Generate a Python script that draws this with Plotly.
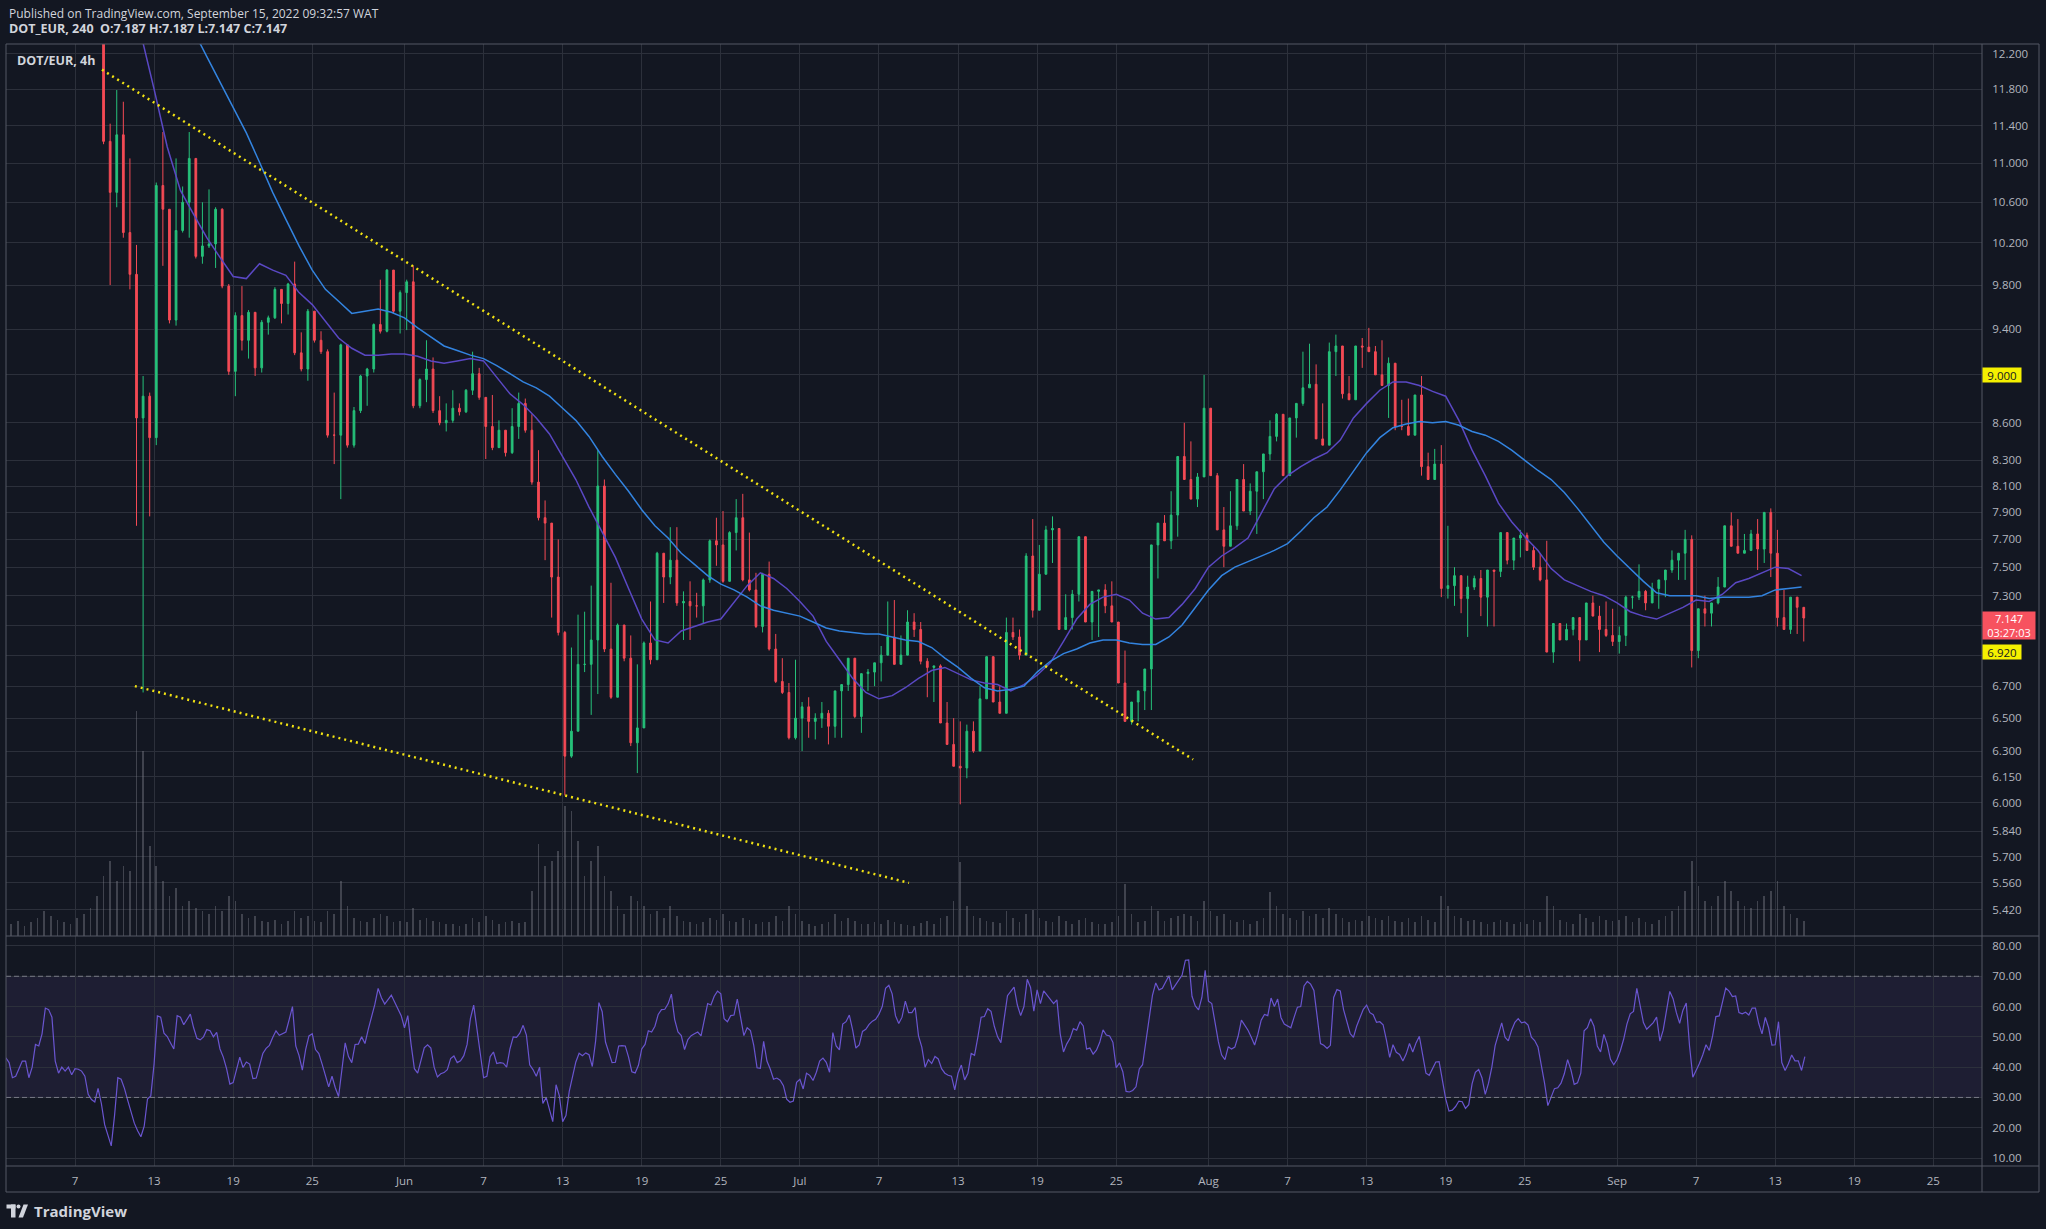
import numpy as np
import pandas as pd
import plotly.graph_objects as go

# ---------------- data ----------------
candle_start = "2022-05-02 00:00"      # open time of the first 12h candle
candle_hours = 12
first_open = 14.75

close = [
    14.6, 14.9, 14.5, 14.2, 14.4, 15.5, 15.7, 14.6, 14.4, 14.2, 14.1, 13.9, 13.4, 12.7,
    11.23, 10.7, 11.3, 10.3, 9.9, 8.64, 8.82, 8.48, 10.77, 10.53,
    9.48, 10.32, 10.6, 11.05, 10.07, 10.17, 10.19, 10.53, 9.79, 9.03,
    9.52, 9.3, 9.55, 9.06, 9.46, 9.5, 9.76, 9.63, 9.81, 9.19,
    9.05, 9.56, 9.3, 9.2, 8.5, 8.5, 9.26, 8.42, 8.7, 8.99,
    9.05, 9.44, 9.38, 9.94, 9.56, 9.73, 9.83, 8.74, 8.96, 9.05,
    8.7, 8.6, 8.62, 8.72, 8.69, 8.87, 9.01, 8.81, 8.57, 8.4,
    8.54, 8.36, 8.57, 8.76, 8.54, 8.13, 7.86, 7.82, 7.43, 7.05,
    6.27, 6.42, 6.84, 6.84, 7.0, 8.1, 6.94, 6.63, 7.1, 6.88,
    6.35, 6.44, 6.98, 6.87, 7.6, 7.43, 7.55, 7.25, 7.26, 7.23,
    7.23, 7.41, 7.69, 7.66, 7.4, 7.75, 7.86, 7.41, 7.34, 7.09,
    7.45, 6.94, 6.73, 6.66, 6.38, 6.5, 6.57, 6.48, 6.5, 6.53,
    6.45, 6.67, 6.71, 6.88, 6.51, 6.78, 6.79, 6.85, 6.9, 7.02,
    6.84, 6.9, 7.12, 7.07, 6.86, 6.82, 6.83, 6.47, 6.34, 6.21,
    6.2, 6.42, 6.3, 6.62, 6.89, 6.6, 6.53, 7.05, 7.02, 6.9,
    7.58, 7.2, 7.45, 7.77, 7.78, 7.07, 7.15, 7.31, 7.72, 7.12,
    7.33, 7.34, 7.23, 7.12, 6.72, 6.48, 6.6, 6.67, 6.81, 7.66,
    7.82, 7.69, 7.88, 8.33, 8.15, 8.0, 8.17, 8.72, 8.18, 7.77,
    7.65, 7.8, 8.15, 7.91, 8.06, 8.21, 8.35, 8.49, 8.67, 8.18,
    8.64, 8.76, 8.89, 8.92, 8.47, 8.42, 9.2, 9.25, 8.84, 8.79,
    9.25, 9.24, 9.2, 9.0, 8.91, 9.1, 8.57, 8.57, 8.5, 8.83,
    8.25, 8.15, 8.27, 7.35, 7.37, 7.44, 7.28, 7.36, 7.42, 7.29,
    7.48, 7.47, 7.75, 7.55, 7.71, 7.73, 7.62, 7.5, 7.41, 6.92,
    7.11, 7.0, 7.07, 7.15, 7.0, 7.25, 7.16, 7.07, 7.03, 6.99,
    7.03, 7.29, 7.29, 7.33, 7.25, 7.35, 7.41, 7.48, 7.55, 7.6,
    7.7, 6.93, 7.21, 7.18, 7.25, 7.36, 7.8, 7.65, 7.6, 7.62,
    7.74, 7.63, 7.9, 7.6, 7.15, 7.07, 7.29, 7.22, 7.147,
]

high = [
    14.9, 15.1, 15.0, 14.6, 14.6, 15.7, 16.0, 15.8, 14.8, 14.6, 14.4, 14.2, 13.9, 13.5,
    12.7, 11.42, 11.79, 11.66, 11.05, 10.18, 8.99, 8.85, 10.8, 11.33,
    10.53, 11.05, 10.76, 11.33, 11.05, 10.6, 10.73, 10.55, 10.54, 9.81,
    9.55, 9.79, 9.57, 9.52, 9.48, 9.52, 9.78, 9.67, 9.82, 10.02,
    9.37, 9.58, 9.56, 9.38, 9.22, 8.85, 9.27, 9.25, 8.73, 9.0,
    9.06, 9.45, 9.85, 9.95, 9.93, 9.75, 9.85, 9.98, 8.97, 9.3,
    9.15, 8.82, 8.76, 8.87, 8.76, 8.88, 9.2, 9.06, 8.8, 8.83,
    8.62, 8.54, 8.72, 8.85, 8.8, 8.67, 8.38, 7.99, 7.7, 7.7,
    7.06, 6.95, 7.17, 7.19, 7.37, 8.38, 8.15, 7.39, 7.11, 7.05,
    7.03, 6.84, 6.99, 7.26, 7.61, 7.56, 7.79, 7.79, 7.33, 7.4,
    7.32, 7.42, 7.7, 7.86, 7.91, 7.76, 8.0, 8.04, 7.75, 7.46,
    7.46, 7.54, 7.04, 6.88, 6.72, 6.87, 6.6, 6.63, 6.53, 6.6,
    6.55, 6.67, 6.71, 6.88, 6.81, 6.78, 6.81, 6.85, 6.96, 7.26,
    7.27, 7.03, 7.2, 7.18, 7.12, 6.88, 6.83, 6.84, 6.6, 6.5,
    6.48, 6.46, 6.48, 6.7, 6.89, 6.82, 6.7, 7.15, 7.15, 7.07,
    7.6, 7.85, 7.66, 7.8, 7.87, 7.78, 7.31, 7.34, 7.72, 7.72,
    7.33, 7.34, 7.38, 7.4, 7.12, 6.93, 6.6, 6.67, 6.81, 7.66,
    7.82, 7.88, 8.06, 8.33, 8.6, 8.45, 8.2, 9.0, 8.72, 8.2,
    7.94, 8.06, 8.15, 8.27, 8.12, 8.21, 8.35, 8.62, 8.68, 8.67,
    8.64, 8.76, 9.2, 9.27, 9.09, 8.76, 9.28, 9.35, 9.25, 8.99,
    9.25, 9.32, 9.41, 9.25, 9.3, 9.15, 9.1, 8.79, 8.8, 8.83,
    8.99, 8.36, 8.39, 8.42, 7.8, 7.5, 7.44, 7.44, 7.44, 7.48,
    7.48, 7.47, 7.75, 7.75, 7.71, 7.77, 7.75, 7.65, 7.6, 7.69,
    7.11, 7.11, 7.11, 7.15, 7.15, 7.25, 7.3, 7.23, 7.26, 7.21,
    7.09, 7.3, 7.3, 7.52, 7.34, 7.39, 7.41, 7.48, 7.62, 7.6,
    7.77, 7.73, 7.21, 7.3, 7.25, 7.43, 7.8, 7.9, 7.85, 7.74,
    7.77, 7.85, 7.9, 7.93, 7.77, 7.34, 7.29, 7.27, 7.22,
]

low = [
    14.4, 14.5, 14.3, 14.0, 14.0, 14.3, 15.3, 14.4, 14.1, 13.9, 13.8, 13.6, 13.1, 12.4,
    11.2, 9.8, 10.55, 10.25, 9.76, 7.8, 6.66, 7.87, 8.42, 9.98,
    9.45, 9.43, 10.3, 10.25, 10.05, 10.0, 10.15, 9.96, 9.77, 9.0,
    8.82, 9.21, 9.14, 8.99, 9.02, 9.35, 9.49, 9.45, 9.53, 9.17,
    9.03, 8.95, 9.28, 9.18, 8.48, 8.27, 8.0, 8.4, 8.4, 8.68,
    8.74, 9.02, 9.36, 9.37, 9.54, 9.36, 9.39, 8.72, 8.72, 8.77,
    8.68, 8.58, 8.53, 8.6, 8.66, 8.68, 8.83, 8.79, 8.31, 8.38,
    8.4, 8.33, 8.35, 8.47, 8.52, 8.11, 7.84, 7.55, 7.15, 7.03,
    6.04, 6.26, 6.74, 6.79, 6.52, 6.65, 6.92, 6.62, 6.71, 6.86,
    6.33, 6.17, 6.5, 6.84, 6.88, 7.25, 7.38, 7.23, 7.0, 7.0,
    7.15, 7.11, 7.39, 7.51, 7.39, 7.4, 7.62, 7.4, 7.33, 7.08,
    7.05, 6.93, 6.72, 6.65, 6.37, 6.37, 6.3, 6.38, 6.37, 6.44,
    6.34, 6.38, 6.38, 6.67, 6.5, 6.41, 6.67, 6.7, 6.73, 6.9,
    6.84, 6.84, 6.9, 7.02, 6.84, 6.63, 6.6, 6.47, 6.34, 6.21,
    5.99, 6.14, 6.29, 6.3, 6.62, 6.6, 6.53, 6.53, 7.0, 6.87,
    6.9, 7.15, 7.2, 7.45, 7.53, 7.07, 7.07, 7.07, 7.26, 7.12,
    7.0, 7.02, 7.18, 7.12, 6.72, 6.48, 6.46, 6.48, 6.55, 6.55,
    7.42, 7.69, 7.63, 7.72, 8.15, 8.0, 7.94, 8.17, 8.18, 7.77,
    7.5, 7.65, 7.77, 7.91, 7.88, 7.74, 8.0, 8.3, 8.45, 8.18,
    8.18, 8.48, 8.74, 8.89, 8.47, 8.42, 8.42, 8.99, 8.8, 8.79,
    8.79, 9.06, 9.2, 9.0, 8.91, 8.64, 8.54, 8.54, 8.5, 8.5,
    8.18, 8.15, 8.15, 7.29, 7.28, 7.23, 7.18, 7.02, 7.34, 7.16,
    7.09, 7.09, 7.43, 7.52, 7.48, 7.57, 7.62, 7.48, 7.4, 6.92,
    6.85, 7.0, 7.0, 7.03, 6.86, 7.0, 7.16, 6.92, 7.02, 6.96,
    6.91, 6.96, 7.21, 7.27, 7.2, 7.25, 7.21, 7.29, 7.46, 7.41,
    7.41, 6.82, 6.88, 7.09, 7.09, 7.24, 7.36, 7.65, 7.6, 7.6,
    7.62, 7.48, 7.53, 7.43, 7.09, 7.07, 7.04, 7.04, 6.99,
]

volume = [  # thousand DOT per 12h
    12, 15, 10, 14, 18, 25, 20, 16, 14, 12, 18, 22, 28, 40,
    60, 75, 55, 70, 65, 225, 185, 90, 70, 55,
    40, 48, 30, 35, 28, 25, 22, 30, 25, 40,
    35, 22, 18, 20, 15, 14, 16, 12, 15, 25,
    18, 20, 15, 14, 25, 22, 55, 30, 18, 15,
    14, 18, 22, 20, 14, 15, 14, 28, 16, 18,
    15, 14, 12, 12, 10, 12, 18, 14, 20, 16,
    12, 14, 15, 13, 14, 45, 92, 70, 75, 85,
    130, 125, 95, 60, 75, 90, 60, 45, 30, 22,
    40, 35, 30, 22, 25, 18, 30, 20, 15, 14,
    12, 14, 18, 16, 22, 15, 14, 18, 16, 12,
    14, 14, 20, 15, 30, 22, 15, 12, 10, 12,
    14, 22, 15, 18, 15, 12, 12, 14, 12, 16,
    14, 12, 11, 10, 13, 15, 12, 18, 20, 35,
    74, 30, 20, 18, 15, 14, 13, 25, 18, 14,
    22, 26, 18, 15, 14, 20, 15, 12, 16, 18,
    14, 12, 12, 14, 20, 52, 22, 14, 15, 30,
    25, 15, 18, 20, 22, 20, 15, 35, 25, 20,
    22, 16, 14, 16, 12, 15, 18, 44, 30, 22,
    18, 16, 25, 20, 22, 18, 28, 22, 18, 14,
    16, 15, 20, 18, 16, 20, 15, 14, 18, 14,
    20, 16, 14, 40, 30, 20, 18, 15, 16, 14,
    12, 14, 16, 14, 12, 14, 12, 16, 14, 40,
    30, 16, 14, 12, 22, 18, 14, 20, 16, 15,
    16, 20, 14, 18, 14, 12, 16, 20, 25, 30,
    45, 75, 50, 35, 30, 40, 55, 45, 35, 30,
    28, 35, 40, 45, 55, 30, 22, 18, 15,
]

rsi_start = "2022-05-01 18:00"
rsi_hours = 6
rsi = [
    43.1, 41.5, 36.5, 37, 39.5, 42, 42, 36.5, 40, 47.5,
    47, 51, 59.5, 59, 56.5, 42, 38, 40, 38.7, 40,
    37.5, 39.5, 39.3, 38.7, 37, 31, 29.3, 28.5, 33, 28,
    21, 17.5, 14, 24, 36.5, 36, 33, 29, 25, 21.5,
    19, 17, 20.5, 29.5, 30.5, 41, 56.9, 56.5, 51.2, 50.1,
    48, 46, 57, 56.5, 54, 56, 57.5, 53, 49.5, 49,
    50, 52.4, 52, 50, 51.5, 46, 43.3, 39.5, 34.4, 34.9,
    39, 43.3, 39.9, 41.7, 41, 36.2, 36.4, 40.5, 44.5, 46.2,
    47.2, 49.8, 52, 50.5, 51, 51.6, 55.7, 60, 47, 43.8,
    39, 45.8, 50.3, 51, 45.8, 44.5, 41, 37.5, 33.5, 37,
    33.2, 30.3, 40, 48, 43.5, 41.5, 47.5, 47.6, 50, 47.8,
    52.5, 56.5, 60.7, 66, 62.9, 60.8, 62.5, 63.8, 61.5, 59.5,
    57, 53, 57, 47.5, 39.5, 38, 42, 46.4, 47.4, 46.3,
    40, 36.8, 37.8, 38.2, 39.2, 42.8, 43.7, 41.5, 42.1, 43.8,
    47.5, 56, 60.5, 53, 44.5, 36.5, 37, 43.5, 45, 41.2,
    41.5, 41.3, 40, 46, 50, 49.8, 51.2, 53.8, 50.6, 40.8,
    39.2, 37, 40, 28, 30, 26.4, 22, 34.2, 30.5, 22,
    24, 32, 36.7, 41.7, 44.6, 43.8, 44.7, 44.1, 40.2, 48.6,
    61.3, 58.3, 48.3, 45.2, 41.5, 41.6, 47, 47.1, 47, 43.3,
    38.5, 38.1, 40.6, 46, 47.5, 52, 51.6, 53.5, 57.4, 59,
    59.1, 60.9, 64.1, 55.7, 51.6, 50.4, 45.8, 49.1, 50.4, 51,
    51.6, 50.3, 55.9, 61, 60.5, 63.4, 65.1, 64.2, 56, 55,
    57, 57.2, 62.5, 56.7, 50.4, 53, 52.1, 47.2, 39.8, 39.6,
    48.5, 42, 39.4, 36, 36.4, 35.7, 33.9, 29.4, 28.4, 28.8,
    35, 36, 32.8, 38, 37.3, 35.6, 38.3, 42, 43, 41.6,
    38.3, 51.4, 47, 45.7, 54.2, 55, 57.2, 52.3, 46.3, 47.3,
    51.8, 52.5, 54.1, 55.2, 55.8, 57.5, 60, 66, 67, 64.2,
    57, 54.4, 56.5, 61.8, 58, 58, 59.7, 50.3, 46.6, 40,
    42.5, 41.2, 43.5, 42.7, 39.5, 38, 37.3, 37, 32.5, 38,
    40.7, 35.8, 38, 44.5, 43.9, 49.8, 56.5, 56.7, 59.3, 58.4,
    53.5, 50, 48.1, 56, 63.6, 65, 66.4, 60.5, 57, 60,
    69, 66.3, 58.5, 65.5, 61, 65.2, 63.8, 62.2, 61, 62.2,
    51, 45, 47.7, 49.5, 52.7, 52.2, 55, 53.6, 46, 46.3,
    44.3, 45.6, 48.2, 52.3, 50.6, 50.3, 48.2, 39.8, 41.4, 38.5,
    32, 31.8, 32.3, 33.5, 39.4, 40.8, 48, 56.5, 63.7, 67.8,
    65.5, 66, 68, 70.2, 65.5, 67, 68.8, 70.4, 75.3, 75.4,
    63.4, 60.2, 58.9, 63, 72, 61.8, 61, 54, 48.4, 44,
    42.5, 46.7, 46, 46.6, 50.2, 55.5, 53.8, 52.2, 49.9, 47.3,
    50.9, 55.5, 57.4, 57, 62.8, 60, 62.5, 56.4, 54.2, 53.7,
    53, 56.5, 59.8, 60, 66.8, 68.3, 67.4, 65.3, 55.5, 47.8,
    47.2, 46.2, 47.2, 63, 65.6, 65.2, 59, 55, 51.1, 49.8,
    53.6, 56.4, 59.1, 60.5, 58, 57.3, 54.8, 55, 54, 49,
    43.2, 47.4, 44.9, 44.2, 42, 44.3, 47.8, 45, 48, 50.2,
    44.4, 38, 37.3, 39.7, 41.7, 41.8, 35.5, 29.5, 25.5, 25.8,
    27, 28.8, 28.6, 26.4, 27.6, 34.5, 38.3, 39.2, 36.5, 31,
    34.7, 40, 47.1, 50.7, 54.6, 49.9, 48.7, 52.2, 54.8, 56,
    54.6, 54.9, 53.9, 49.9, 48.8, 46.7, 41.2, 34.7, 27.3, 30.3,
    32.9, 33.2, 34.7, 37.8, 42.5, 39.1, 34.3, 34.8, 38, 52,
    53, 56, 53.5, 47, 45, 50.8, 47.6, 42.6, 40.8, 42.5,
    45.4, 49.2, 54.2, 57.6, 58.4, 66, 60.5, 54.7, 52.5, 53.7,
    54.7, 56.5, 48.6, 52.2, 58.8, 65, 62.6, 58, 54.5, 58.8,
    61.2, 47, 36.7, 38.8, 41.2, 44, 47.4, 45.5, 50.3, 56.7,
    56.9, 61.5, 66.1, 65.1, 63.3, 63.5, 58, 57.6, 58.1, 57.2,
    59.5, 59.5, 54.4, 51, 56.4, 53, 47.3, 47.4, 55, 41.5,
    38.9, 41.1, 44, 42.1, 42.1, 38.9, 43.5,
]

ma_fast_start = "2022-05-11"   # daily values
ma_fast = [
    13.1, 12.45, 11.8, 11.17, 10.72, 10.48, 10.25, 10.06, 9.88, 9.86,
    10.0, 9.94, 9.89, 9.73, 9.62, 9.47, 9.32, 9.23, 9.17, 9.17,
    9.18, 9.18, 9.16, 9.12, 9.10, 9.12, 9.14, 9.12, 8.98, 8.84,
    8.75, 8.64, 8.51, 8.33, 8.15, 7.94, 7.75, 7.57, 7.35, 7.14,
    7.0, 6.98, 7.06, 7.09, 7.12, 7.14, 7.25, 7.37, 7.46, 7.42,
    7.35, 7.26, 7.16, 6.99, 6.87, 6.75, 6.66, 6.62, 6.64, 6.69,
    6.75, 6.8, 6.82, 6.78, 6.74, 6.72, 6.71, 6.67, 6.71, 6.77,
    6.85, 6.99, 7.14, 7.24, 7.29, 7.31, 7.27, 7.18, 7.14, 7.15,
    7.24, 7.35, 7.5, 7.58, 7.64, 7.71, 7.89, 8.08, 8.18, 8.25,
    8.31, 8.36, 8.46, 8.64, 8.76, 8.87, 8.94, 8.94, 8.91, 8.86,
    8.82, 8.62, 8.38, 8.18, 7.97, 7.83, 7.72, 7.62, 7.49, 7.41,
    7.37, 7.33, 7.3, 7.25, 7.19, 7.16, 7.14, 7.18, 7.22, 7.27,
    7.26, 7.31, 7.39, 7.42, 7.46, 7.5, 7.49, 7.44,
]

ma_slow_start = "2022-05-15"   # daily values
ma_slow = [
    12.8, 12.47, 12.17, 11.88, 11.58, 11.32, 11.01, 10.7, 10.43, 10.17,
    9.94, 9.76, 9.65, 9.54, 9.56, 9.58, 9.55, 9.5, 9.41, 9.33,
    9.25, 9.21, 9.17, 9.14, 9.08, 9.01, 8.94, 8.89, 8.82, 8.72,
    8.62, 8.49, 8.33, 8.19, 8.06, 7.92, 7.8, 7.71, 7.6, 7.52,
    7.44, 7.38, 7.34, 7.29, 7.23, 7.2, 7.18, 7.16, 7.12, 7.08,
    7.06, 7.05, 7.04, 7.04, 7.02, 7.0, 6.99, 6.95, 6.88, 6.82,
    6.75, 6.69, 6.67, 6.68, 6.7, 6.79, 6.86, 6.91, 6.94, 6.98,
    7.0, 7.0, 6.98, 6.97, 6.97, 7.02, 7.1, 7.22, 7.34, 7.44,
    7.5, 7.54, 7.58, 7.62, 7.67, 7.76, 7.86, 7.94, 8.07, 8.21,
    8.36, 8.48, 8.56, 8.59, 8.61, 8.6, 8.61, 8.58, 8.53, 8.5,
    8.45, 8.38, 8.3, 8.22, 8.15, 8.05, 7.93, 7.8, 7.68, 7.58,
    7.49, 7.4, 7.32, 7.3, 7.3, 7.3, 7.28, 7.29, 7.29, 7.29,
    7.3, 7.34, 7.35, 7.36,
]

price_ticks = [12.2, 11.8, 11.4, 11.0, 10.6, 10.2, 9.8, 9.4, 9.0, 8.6, 8.3, 8.1, 7.9, 7.7,
               7.5, 7.3, 7.1, 6.9, 6.7, 6.5, 6.3, 6.15, 6.0, 5.84, 5.7, 5.56, 5.42]
covered_ticks = [9.0, 7.1, 6.9]      # ticks hidden behind the price labels
rsi_ticks = [10, 20, 30, 40, 50, 60, 70, 80]
rsi_band = [30, 70]
date_ticks = ["2022-05-07", "2022-05-13", "2022-05-19", "2022-05-25", "2022-06-01",
              "2022-06-07", "2022-06-13", "2022-06-19", "2022-06-25", "2022-07-01",
              "2022-07-07", "2022-07-13", "2022-07-19", "2022-07-25", "2022-08-01",
              "2022-08-07", "2022-08-13", "2022-08-19", "2022-08-25", "2022-09-01",
              "2022-09-07", "2022-09-13", "2022-09-19", "2022-09-25"]
date_labels = ["7", "13", "19", "25", "Jun", "7", "13", "19", "25", "Jul", "7", "13", "19",
               "25", "Aug", "7", "13", "19", "25", "Sep", "7", "13", "19", "25"]

upper_trend_t = ["2022-05-09 01:10", "2022-07-30 20:00"]
upper_trend_p = [12.02, 6.25]
lower_trend_t = ["2022-05-11 13:00", "2022-07-09 06:40"]
lower_trend_p = [6.70, 5.56]
levels = [9.0, 6.92]
zone_t = ["2022-07-16 13:30", "2022-09-21 02:30"]
zone_p = [7.717, 7.825]
last_price = 7.147
countdown = "03:27:03"

# ---------------- style ----------------
W, H = 2046, 1229
ML, MR, MT, MB = 6, 64, 44, 63
BG = "#131722"
GRID = "#2c303b"
FRAME = "#555965"
TXT = "#d1d4dc"
AXTXT = "#b2b5be"
GREEN = "#26c17a"
RED = "#f44a55"
YEL = "#f2e313"
PURPLE = "#5a48c4"
BLUE = "#3384e0"
RSI_C = "#6a55d0"
FONT = "Open Sans, Noto Sans, sans-serif"


def px(x):
    return (x - ML) / (W - ML - MR)


def py(y):
    return (H - MB - y) / (H - MT - MB)


split = py(936)

n = min(len(close), len(high), len(low), len(volume))
close, high, low, volume = close[:n], high[:n], low[:n], volume[:n]
opens = [first_open] + close[:-1]
high_adj = [max(h, o, c) for h, o, c in zip(high, opens, close)]
low_adj = [min(l, o, c) for l, o, c in zip(low, opens, close)]
t_candle = pd.date_range(candle_start, periods=n, freq=f"{candle_hours}h") + pd.Timedelta(hours=4)
t_rsi = pd.date_range(rsi_start, periods=len(rsi), freq=f"{rsi_hours}h")
t_fast = pd.date_range(ma_fast_start, periods=len(ma_fast), freq="D")
t_slow = pd.date_range(ma_slow_start, periods=len(ma_slow), freq="D")

x_range = ["2022-05-01 18:21", "2022-09-28 16:34"]
p_range = [np.log10(5.287), np.log10(12.316)]

fig = go.Figure()

fig.add_trace(go.Bar(
    x=t_candle, y=volume, xaxis="x", yaxis="y",
    marker=dict(color="rgba(120,123,134,0.45)", line=dict(width=0)),
    width=candle_hours * 3600 * 1000 * 0.25, hoverinfo="skip"))

fig.add_trace(go.Scatter(x=t_fast, y=ma_fast, xaxis="x", yaxis="y3", mode="lines",
                         line=dict(color=PURPLE, width=1.5), hoverinfo="skip"))
fig.add_trace(go.Scatter(x=t_slow, y=ma_slow, xaxis="x", yaxis="y3", mode="lines",
                         line=dict(color=BLUE, width=1.5), hoverinfo="skip"))

fig.add_trace(go.Candlestick(
    x=t_candle, open=opens, high=high_adj, low=low_adj, close=close,
    xaxis="x", yaxis="y3", whiskerwidth=0,
    increasing=dict(line=dict(color=GREEN, width=1), fillcolor=GREEN),
    decreasing=dict(line=dict(color=RED, width=1), fillcolor=RED)))

for tt, pp in [(upper_trend_t, upper_trend_p), (lower_trend_t, lower_trend_p)]:
    fig.add_trace(go.Scatter(x=tt, y=pp, xaxis="x", yaxis="y3", mode="lines",
                             line=dict(color=YEL, width=2.5, dash="2px,4px"), hoverinfo="skip"))

fig.add_trace(go.Scatter(x=t_rsi, y=rsi, xaxis="x2", yaxis="y2", mode="lines",
                         line=dict(color=RSI_C, width=1.2), hoverinfo="skip"))

shapes = []
# RSI band and its dashed bounds
shapes.append(dict(type="rect", xref="paper", yref="y2", x0=0, x1=1, y0=rsi_band[0], y1=rsi_band[1],
                   fillcolor="rgba(126,87,194,0.11)", line=dict(width=0), layer="below"))
for v in rsi_band:
    shapes.append(dict(type="line", xref="paper", yref="y2", x0=0, x1=1, y0=v, y1=v,
                       line=dict(color="#787b86", width=1, dash="5px,3px")))
# horizontal levels
for v in levels:
    shapes.append(dict(type="line", xref="paper", yref="y3", x0=0, x1=1,
                       y0=np.log10(v), y1=np.log10(v),
                       line=dict(color=YEL, width=1.2, dash="2px,2px")))
# resistance zone
shapes.append(dict(type="rect", xref="x", yref="y3", x0=zone_t[0], x1=zone_t[1],
                   y0=np.log10(zone_p[0]), y1=np.log10(zone_p[1]),
                   fillcolor="rgba(240,230,20,0.08)", line=dict(color=YEL, width=1.5)))
# frame lines
for y in [44, 936, 1166, 1192]:
    shapes.append(dict(type="line", xref="paper", yref="paper", x0=px(6), x1=px(2039),
                       y0=py(y), y1=py(y), line=dict(color=FRAME, width=1)))
for x in [6, 1982, 2039]:
    shapes.append(dict(type="line", xref="paper", yref="paper", x0=px(x), x1=px(x),
                       y0=py(44), y1=py(1192), line=dict(color=FRAME, width=1)))
# TradingView logo
LOGO = "#d1d4dc"
shapes.append(dict(type="rect", xref="paper", yref="paper", x0=px(6.5), x1=px(15.5),
                   y0=py(1204.5), y1=py(1208.5), fillcolor=LOGO, line=dict(width=0)))
shapes.append(dict(type="rect", xref="paper", yref="paper", x0=px(11), x1=px(15.5),
                   y0=py(1204.5), y1=py(1217.5), fillcolor=LOGO, line=dict(width=0)))
shapes.append(dict(type="circle", xref="paper", yref="paper", x0=px(16.5), x1=px(20.5),
                   y0=py(1204.5), y1=py(1208.5), fillcolor=LOGO, line=dict(width=0)))
shapes.append(dict(type="path", xref="paper", yref="paper",
                   path=f"M {px(18.5)} {py(1217.5)} L {px(23)} {py(1217.5)} L {px(28)} {py(1204.5)} L {px(23.5)} {py(1204.5)} Z",
                   fillcolor=LOGO, line=dict(width=0)))

annotations = [
    dict(xref="paper", yref="paper", x=px(7), y=py(13), xanchor="left", yanchor="middle",
         text="Published on TradingView.com, September 15, 2022 09:32:57 WAT",
         showarrow=False, font=dict(family=FONT, size=12, color=TXT)),
    dict(xref="paper", yref="paper", x=px(7), y=py(29), xanchor="left", yanchor="middle",
         text="<b>DOT_EUR, 240  O:7.187 H:7.187 L:7.147 C:7.147</b>",
         showarrow=False, font=dict(family=FONT, size=12.5, color=TXT)),
    dict(xref="paper", yref="paper", x=px(15), y=py(61), xanchor="left", yanchor="middle",
         text="<b>DOT/EUR, 4h</b>", showarrow=False, font=dict(family=FONT, size=12.5, color=TXT)),
    dict(xref="paper", yref="paper", x=px(32), y=py(1211), xanchor="left", yanchor="middle",
         text="<b>TradingView</b>", showarrow=False, font=dict(family=FONT, size=15, color=LOGO)),
]
for v in levels:
    annotations.append(dict(xref="paper", yref="y3", x=1.0, y=np.log10(v), xanchor="left",
                            yanchor="middle", text=f"{v:.3f}", showarrow=False, bgcolor="#f5f000",
                            width=36, height=12, borderpad=1,
                            font=dict(family=FONT, size=11.5, color="#131722")))
annotations.append(dict(xref="paper", yref="y3", x=1.0, y=np.log10(last_price), xanchor="left",
                        yanchor="top", yshift=7, text=f"{last_price:.3f}<br>{countdown}",
                        showarrow=False, bgcolor="#f7525f", width=50, height=25, borderpad=1,
                        align="center", font=dict(family=FONT, size=11, color="#ffffff")))

price_text = ["" if v in covered_ticks else f"{v:.3f}" for v in price_ticks]

fig.update_layout(
    width=W, height=H, autosize=False,
    margin=dict(l=ML, r=MR, t=MT, b=MB, pad=0),
    paper_bgcolor=BG, plot_bgcolor=BG,
    showlegend=False, boxgap=0.62, bargap=0,
    font=dict(family=FONT, color=AXTXT, size=12),
    shapes=shapes, annotations=annotations,
    xaxis=dict(type="date", domain=[0, 1], anchor="y", range=x_range,
               tickvals=date_ticks, ticktext=date_labels, showticklabels=False,
               showgrid=True, gridcolor=GRID, zeroline=False, showline=False,
               rangeslider=dict(visible=False), ticks=""),
    xaxis2=dict(type="date", domain=[0, 1], anchor="y2", matches="x", range=x_range,
                tickvals=date_ticks, ticktext=date_labels, showticklabels=True,
                ticks="outside", ticklen=4, tickcolor=BG,
                tickfont=dict(family=FONT, size=11.5, color=AXTXT),
                showgrid=True, gridcolor=GRID, zeroline=False, showline=False),
    yaxis=dict(domain=[split, 1], anchor="x", range=[0, 892], visible=False, fixedrange=True),
    yaxis3=dict(type="log", overlaying="y", anchor="x", side="right", range=p_range,
                tickvals=price_ticks, ticktext=price_text,
                ticks="outside", ticklen=7, tickcolor=BG,
                tickfont=dict(family=FONT, size=11.5, color=AXTXT),
                showgrid=True, gridcolor=GRID, zeroline=False, showline=False),
    yaxis2=dict(domain=[0, split], anchor="x2", side="right", range=[7.36, 83.3],
                tickvals=rsi_ticks, ticktext=[f"{v:.2f}" for v in rsi_ticks],
                ticks="outside", ticklen=7, tickcolor=BG,
                tickfont=dict(family=FONT, size=11.5, color=AXTXT),
                showgrid=True, gridcolor=GRID, zeroline=False, showline=False),
)

fig.write_html("out.html", config={"displayModeBar": False},
               post_script="document.body.style.margin='0';")
